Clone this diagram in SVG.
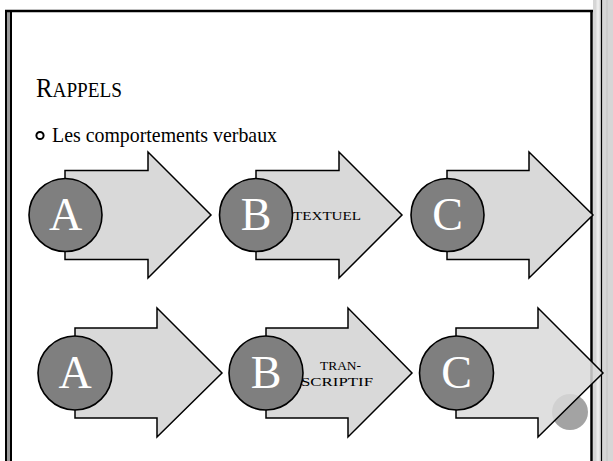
<svg xmlns="http://www.w3.org/2000/svg" width="613" height="461" viewBox="0 0 613 461">
<style>
.arrow{fill:#d9d9d9;stroke:#000;stroke-width:1.5;stroke-linejoin:miter}
.node{fill:#7f7f7f;stroke:#000;stroke-width:1.6}
.letter{font-family:"Liberation Serif",serif;font-size:46px;fill:#fff;text-anchor:middle}
.lbl{font-family:"Liberation Serif",serif;font-size:12.5px;fill:#000}
.txt{font-family:"Liberation Serif",serif;fill:#000}
</style>
<rect width="613" height="461" fill="#fff"/>
<g id="frame">
  <rect x="593" y="0" width="20" height="461" fill="#d6d6d6"/>
  <line x1="598" y1="0" x2="598" y2="461" stroke="#ececec" stroke-width="3"/>
  <line x1="607" y1="0" x2="607" y2="461" stroke="#c4c4c4" stroke-width="1"/>
  <rect x="5" y="10" width="7" height="451" fill="#9a9a9a"/>
  <line x1="6" y1="10" x2="6" y2="461" stroke="#000" stroke-width="2"/>
  <line x1="11" y1="10" x2="11" y2="461" stroke="#000" stroke-width="2"/>
  <line x1="5" y1="11" x2="593" y2="11" stroke="#000" stroke-width="2.5"/>
  <line x1="591.5" y1="10" x2="591.5" y2="461" stroke="#000" stroke-width="2.5"/>
  <line x1="601.5" y1="0" x2="601.5" y2="461" stroke="#000" stroke-width="1.2"/>
</g>
<g id="title">
  <text class="txt" x="36" y="97" textLength="86" lengthAdjust="spacingAndGlyphs"><tspan font-size="27">R</tspan><tspan font-size="21">APPELS</tspan></text>
</g>
<g id="bullet">
  <circle cx="40" cy="135.5" r="3.6" fill="none" stroke="#000" stroke-width="2"/>
  <text class="txt" x="52" y="142" font-size="21" textLength="225" lengthAdjust="spacingAndGlyphs">Les comportements verbaux</text>
</g>
<circle cx="570" cy="412" r="18" fill="#a3a3a3"/>
<g id="connectors">
  <polygon class="arrow" points="65,170.5 148,170.5 148,152 211,215 148,278 148,259.5 65,259.5"/>
  <polygon class="arrow" points="256,170.5 339,170.5 339,152 402,215 339,278 339,259.5 256,259.5"/>
  <polygon class="arrow" points="447,170.5 529,170.5 529,152 593,215 529,278 529,259.5 447,259.5"/>
  <polygon class="arrow" points="75,328 157,328 157,308 222,373 157,437 157,418 75,418"/>
  <polygon class="arrow" points="266,328 348,328 348,308 412,373 348,437 348,418 266,418"/>
  <polygon class="arrow" fill-opacity="0.85" points="456,328 538,328 538,308 603,373 538,437 538,418 456,418"/>
</g>
<g id="nodeA1"><circle class="node" cx="65.5" cy="215" r="36.5"/><text class="letter" x="65.5" y="230">A</text></g>
<g id="nodeB1"><circle class="node" cx="256" cy="215" r="36.5"/><text class="letter" x="256" y="230">B</text></g>
<g id="nodeC1"><circle class="node" cx="447.5" cy="215" r="36.5"/><text class="letter" x="447.5" y="230">C</text></g>
<g id="nodeA2"><circle class="node" cx="75" cy="373" r="37"/><text class="letter" x="75" y="388">A</text></g>
<g id="nodeB2"><circle class="node" cx="266" cy="373" r="37"/><text class="letter" x="266" y="388">B</text></g>
<g id="nodeC2"><circle class="node" cx="456.5" cy="373" r="37"/><text class="letter" x="456.5" y="388">C</text></g>
<g id="labels">
  <text class="lbl" x="293" y="220" textLength="68" lengthAdjust="spacingAndGlyphs">TEXTUEL</text>
  <text class="lbl" x="320" y="370" textLength="41" lengthAdjust="spacingAndGlyphs">TRAN-</text>
  <text class="lbl" x="301" y="386" textLength="72" lengthAdjust="spacingAndGlyphs">SCRIPTIF</text>
</g>
</svg>
